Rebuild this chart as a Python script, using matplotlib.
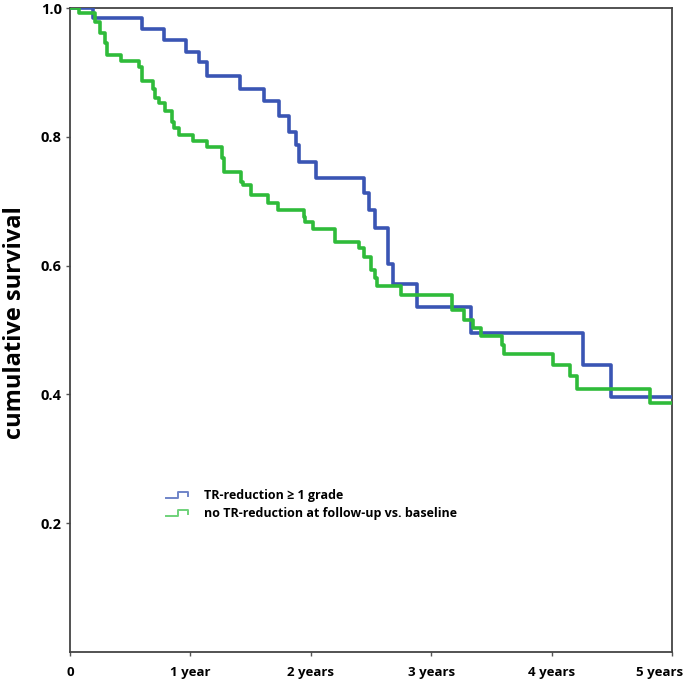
import numpy as np
import matplotlib
matplotlib.use('Agg')
import matplotlib.pyplot as plt
import matplotlib.transforms as mtransforms
from matplotlib.lines import Line2D
from matplotlib.legend_handler import HandlerBase

# Kaplan-Meier steps (time in years, survival after the step)
blue_t = [0.0, 0.19, 0.60, 0.78, 0.965, 1.075, 1.137, 1.414, 1.61, 1.74, 1.82,
          1.88, 1.905, 2.04, 2.44, 2.48, 2.53, 2.64, 2.68, 2.88, 3.33, 4.26, 4.49]
blue_s = [1.0, 0.984, 0.967, 0.950, 0.932, 0.916, 0.895, 0.875, 0.856, 0.833, 0.808,
          0.787, 0.761, 0.736, 0.712, 0.686, 0.658, 0.602, 0.572, 0.536, 0.495, 0.446, 0.396]

green_t = [0.0, 0.075, 0.21, 0.25, 0.29, 0.31, 0.42, 0.57, 0.60, 0.69, 0.71, 0.74,
           0.785, 0.85, 0.865, 0.907, 1.02, 1.14, 1.26, 1.275, 1.42, 1.44, 1.50,
           1.645, 1.73, 1.94, 1.955, 2.02, 2.20, 2.40, 2.44, 2.50, 2.53, 2.55, 2.75,
           3.17, 3.27, 3.35, 3.41, 3.59, 3.605, 4.01, 4.15, 4.21, 4.82]
green_s = [1.0, 0.992, 0.979, 0.961, 0.945, 0.927, 0.918, 0.909, 0.886, 0.875, 0.860, 0.852,
           0.840, 0.823, 0.813, 0.803, 0.794, 0.784, 0.767, 0.746, 0.730, 0.725, 0.710,
           0.697, 0.686, 0.676, 0.668, 0.657, 0.637, 0.627, 0.614, 0.593, 0.580, 0.569, 0.555,
           0.531, 0.516, 0.503, 0.491, 0.477, 0.463, 0.446, 0.429, 0.409, 0.387]

t_end = 5.0
x_ticks = [0, 1, 2, 3, 4, 5]
x_labels = ['0', '1 year', '2 years', '3 years', '4 years', '5 years']
y_ticks = [0.2, 0.4, 0.6, 0.8, 1.0]
y_labels = ['0.2', '0.4', '0.6', '0.8', '1.0']

labels = ['TR-reduction \u2265 1 grade', 'no TR-reduction at follow-up vs. baseline']
colors = ['#3a55b4', '#2fbb3a']
legend_colors = ['#6f84c8', '#6fd27a']

plt.rcParams['font.family'] = ['Open Sans', 'DejaVu Sans']
plt.rcParams['font.weight'] = 'bold'


# legend glyph drawn as a small step like the one in the picture
class StepHandler(HandlerBase):
    def create_artists(self, legend, orig_handle, xdescent, ydescent,
                       width, height, fontsize, trans):
        x0, x1 = -xdescent, -xdescent + width
        y0, y1 = -ydescent + 0.1 * height, -ydescent + 0.85 * height
        xm = x0 + 0.55 * width
        ln = Line2D([x0, xm, xm, x1, x1], [y0, y0, y1, y1, y0 + 0.3 * height],
                    color=orig_handle.get_color(), lw=1.4, transform=trans)
        return [ln]


fig = plt.figure(figsize=(6.85, 6.82), dpi=100)
ax = fig.add_axes([70 / 685, 1 - 652 / 682, 602 / 685, 644 / 682])

for t, s, c in [(blue_t, blue_s, colors[0]), (green_t, green_s, colors[1])]:
    ax.step(t + [t_end], s + [s[-1]], where='post', color=c, lw=2.6, zorder=3)

ax.set_xlim(0, 5)
ax.set_ylim(0, 1.0)
ax.set_xticks(x_ticks)
ax.set_xticklabels(x_labels, fontsize=9.5, fontweight='bold')
ax.set_yticks(y_ticks)
ax.set_yticklabels(y_labels, fontsize=10.5, fontweight='bold')
ax.tick_params(length=3, width=1, color='#555555', pad=7)
ax.tick_params(axis='y', pad=3)

# last x label is pulled left so it stays inside the picture
last = ax.get_xticklabels()[-1]
last.set_transform(last.get_transform() +
                   mtransforms.ScaledTranslation(-12 / 100, 0, fig.dpi_scale_trans))

for sp in ax.spines.values():
    sp.set_color('#444444')
    sp.set_linewidth(1.3)

ax.set_ylabel('cumulative survival', fontsize=17, fontweight='bold')
ax.yaxis.set_label_coords(-0.071, 0.512)

handles = [Line2D([], [], color=c) for c in legend_colors]
ax.legend(handles, labels, handler_map={Line2D: StepHandler()},
          loc='upper left', bbox_to_anchor=(0.14, 0.27), frameon=False,
          prop={'size': 9, 'weight': 'bold'}, handlelength=1.8, handletextpad=1.3,
          labelspacing=0.4)

fig.savefig('out.png', dpi=100)
